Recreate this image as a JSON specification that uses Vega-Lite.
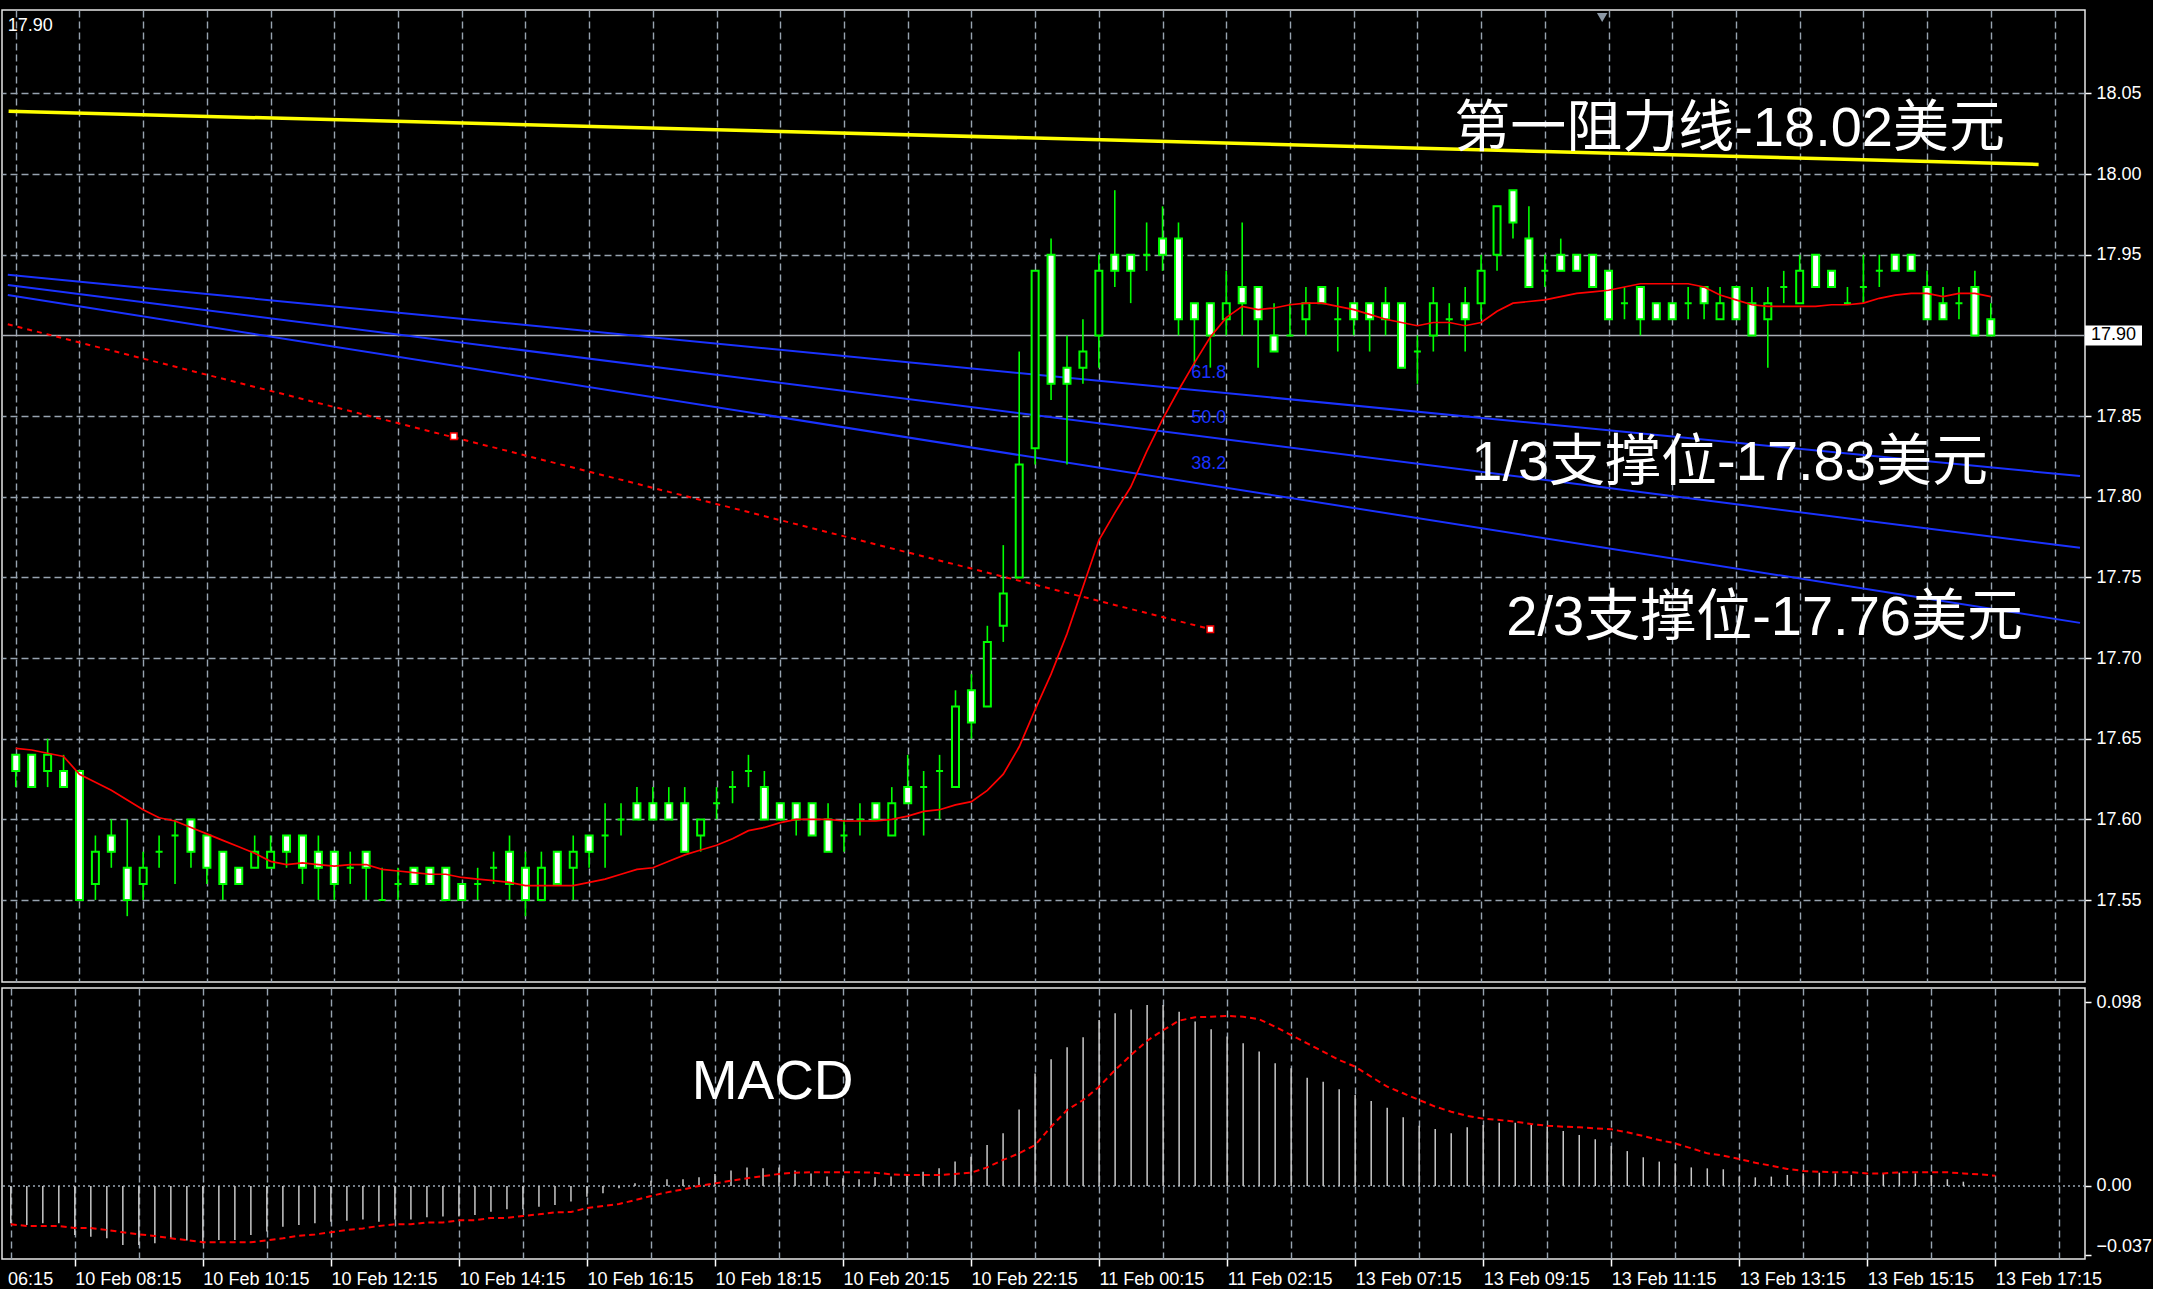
{
  "$schema": "https://vega.github.io/schema/vega-lite/v6.json",
  "background": "#000000",
  "padding": {"left": 0, "top": 9, "right": 0, "bottom": 0},
  "spacing": 4,
  "config": {
    "view": {"stroke": "#e6e6e6", "strokeWidth": 1.5},
    "axis": {
      "labelFont": "Liberation Sans, Arial, sans-serif",
      "labelFontSize": 18,
      "labelColor": "#ffffff",
      "tickColor": "#ffffff",
      "tickWidth": 1.5,
      "tickSize": 6,
      "domain": false,
      "gridColor": "#97a3b0",
      "gridDash": [7, 4],
      "gridWidth": 1.4,
      "gridOpacity": 1
    }
  },
  "datasets": {
    "bars": [
      {"i":0,"o":17.64,"h":17.64,"l":17.62,"c":17.63,"ma":17.644,"m":-0.0199,"s":-0.0204},
      {"i":1,"o":17.64,"h":17.64,"l":17.62,"c":17.62,"ma":17.643,"m":-0.0208,"s":-0.0213},
      {"i":2,"o":17.63,"h":17.65,"l":17.62,"c":17.64,"ma":17.641,"m":-0.0199,"s":-0.0213},
      {"i":3,"o":17.63,"h":17.64,"l":17.62,"c":17.62,"ma":17.639,"m":-0.0199,"s":-0.0213},
      {"i":4,"o":17.63,"h":17.63,"l":17.55,"c":17.55,"ma":17.628,"m":-0.0261,"s":-0.0224},
      {"i":5,"o":17.56,"h":17.59,"l":17.55,"c":17.58,"ma":17.623,"m":-0.0270,"s":-0.0224},
      {"i":6,"o":17.59,"h":17.60,"l":17.57,"c":17.58,"ma":17.618,"m":-0.0279,"s":-0.0234},
      {"i":7,"o":17.57,"h":17.60,"l":17.54,"c":17.55,"ma":17.612,"m":-0.0314,"s":-0.0247},
      {"i":8,"o":17.56,"h":17.58,"l":17.55,"c":17.57,"ma":17.606,"m":-0.0314,"s":-0.0258},
      {"i":9,"o":17.58,"h":17.59,"l":17.57,"c":17.58,"ma":17.601,"m":-0.0305,"s":-0.0266},
      {"i":10,"o":17.59,"h":17.60,"l":17.56,"c":17.59,"ma":17.599,"m":-0.0279,"s":-0.0279},
      {"i":11,"o":17.60,"h":17.60,"l":17.57,"c":17.58,"ma":17.595,"m":-0.0291,"s":-0.0288},
      {"i":12,"o":17.59,"h":17.59,"l":17.56,"c":17.57,"ma":17.591,"m":-0.0305,"s":-0.0300},
      {"i":13,"o":17.58,"h":17.58,"l":17.55,"c":17.56,"ma":17.587,"m":-0.0288,"s":-0.0300},
      {"i":14,"o":17.57,"h":17.57,"l":17.56,"c":17.56,"ma":17.583,"m":-0.0288,"s":-0.0300},
      {"i":15,"o":17.57,"h":17.59,"l":17.57,"c":17.58,"ma":17.579,"m":-0.0261,"s":-0.0300},
      {"i":16,"o":17.57,"h":17.59,"l":17.57,"c":17.58,"ma":17.574,"m":-0.0243,"s":-0.0290},
      {"i":17,"o":17.59,"h":17.59,"l":17.57,"c":17.58,"ma":17.572,"m":-0.0217,"s":-0.0279},
      {"i":18,"o":17.59,"h":17.59,"l":17.56,"c":17.57,"ma":17.573,"m":-0.0208,"s":-0.0265},
      {"i":19,"o":17.58,"h":17.59,"l":17.55,"c":17.57,"ma":17.572,"m":-0.0199,"s":-0.0258},
      {"i":20,"o":17.58,"h":17.58,"l":17.55,"c":17.56,"ma":17.571,"m":-0.0190,"s":-0.0247},
      {"i":21,"o":17.57,"h":17.58,"l":17.56,"c":17.57,"ma":17.572,"m":-0.0185,"s":-0.0234},
      {"i":22,"o":17.58,"h":17.58,"l":17.55,"c":17.57,"ma":17.572,"m":-0.0178,"s":-0.0226},
      {"i":23,"o":17.55,"h":17.57,"l":17.55,"c":17.55,"ma":17.569,"m":-0.0190,"s":-0.0213},
      {"i":24,"o":17.56,"h":17.57,"l":17.55,"c":17.56,"ma":17.568,"m":-0.0178,"s":-0.0204},
      {"i":25,"o":17.57,"h":17.57,"l":17.56,"c":17.56,"ma":17.567,"m":-0.0178,"s":-0.0204},
      {"i":26,"o":17.57,"h":17.57,"l":17.56,"c":17.56,"ma":17.566,"m":-0.0167,"s":-0.0194},
      {"i":27,"o":17.57,"h":17.57,"l":17.55,"c":17.55,"ma":17.566,"m":-0.0163,"s":-0.0194},
      {"i":28,"o":17.56,"h":17.56,"l":17.55,"c":17.55,"ma":17.564,"m":-0.0163,"s":-0.0183},
      {"i":29,"o":17.56,"h":17.57,"l":17.55,"c":17.56,"ma":17.563,"m":-0.0155,"s":-0.0183},
      {"i":30,"o":17.57,"h":17.58,"l":17.56,"c":17.57,"ma":17.562,"m":-0.0137,"s":-0.0170},
      {"i":31,"o":17.58,"h":17.59,"l":17.55,"c":17.56,"ma":17.561,"m":-0.0124,"s":-0.0170},
      {"i":32,"o":17.57,"h":17.58,"l":17.54,"c":17.55,"ma":17.559,"m":-0.0124,"s":-0.0160},
      {"i":33,"o":17.55,"h":17.58,"l":17.55,"c":17.57,"ma":17.559,"m":-0.0110,"s":-0.0151},
      {"i":34,"o":17.58,"h":17.58,"l":17.56,"c":17.56,"ma":17.559,"m":-0.0101,"s":-0.0140},
      {"i":35,"o":17.57,"h":17.59,"l":17.55,"c":17.58,"ma":17.559,"m":-0.0083,"s":-0.0139},
      {"i":36,"o":17.59,"h":17.59,"l":17.57,"c":17.58,"ma":17.561,"m":-0.0057,"s":-0.0117},
      {"i":37,"o":17.59,"h":17.61,"l":17.57,"c":17.59,"ma":17.563,"m":-0.0039,"s":-0.0107},
      {"i":38,"o":17.60,"h":17.61,"l":17.59,"c":17.60,"ma":17.566,"m":-0.0012,"s":-0.0096},
      {"i":39,"o":17.61,"h":17.62,"l":17.60,"c":17.60,"ma":17.569,"m":0.0014,"s":-0.0075},
      {"i":40,"o":17.61,"h":17.62,"l":17.60,"c":17.60,"ma":17.570,"m":0.0028,"s":-0.0053},
      {"i":41,"o":17.61,"h":17.62,"l":17.60,"c":17.60,"ma":17.574,"m":0.0036,"s":-0.0034},
      {"i":42,"o":17.61,"h":17.62,"l":17.58,"c":17.58,"ma":17.578,"m":0.0036,"s":-0.0018},
      {"i":43,"o":17.59,"h":17.60,"l":17.58,"c":17.60,"ma":17.581,"m":0.0046,"s":0.0000},
      {"i":44,"o":17.61,"h":17.62,"l":17.60,"c":17.61,"ma":17.584,"m":0.0064,"s":0.0014},
      {"i":45,"o":17.62,"h":17.63,"l":17.61,"c":17.62,"ma":17.588,"m":0.0082,"s":0.0028},
      {"i":46,"o":17.63,"h":17.64,"l":17.62,"c":17.63,"ma":17.593,"m":0.0099,"s":0.0041},
      {"i":47,"o":17.62,"h":17.63,"l":17.60,"c":17.60,"ma":17.595,"m":0.0094,"s":0.0053},
      {"i":48,"o":17.61,"h":17.61,"l":17.60,"c":17.60,"ma":17.598,"m":0.0099,"s":0.0064},
      {"i":49,"o":17.61,"h":17.61,"l":17.59,"c":17.60,"ma":17.600,"m":0.0082,"s":0.0071},
      {"i":50,"o":17.61,"h":17.61,"l":17.59,"c":17.59,"ma":17.600,"m":0.0067,"s":0.0073},
      {"i":51,"o":17.60,"h":17.61,"l":17.58,"c":17.58,"ma":17.600,"m":0.0050,"s":0.0073},
      {"i":52,"o":17.59,"h":17.60,"l":17.58,"c":17.59,"ma":17.599,"m":0.0041,"s":0.0073},
      {"i":53,"o":17.60,"h":17.61,"l":17.59,"c":17.60,"ma":17.599,"m":0.0036,"s":0.0073},
      {"i":54,"o":17.61,"h":17.61,"l":17.60,"c":17.60,"ma":17.599,"m":0.0046,"s":0.0071},
      {"i":55,"o":17.59,"h":17.62,"l":17.59,"c":17.61,"ma":17.600,"m":0.0050,"s":0.0062},
      {"i":56,"o":17.62,"h":17.64,"l":17.61,"c":17.61,"ma":17.602,"m":0.0064,"s":0.0059},
      {"i":57,"o":17.62,"h":17.63,"l":17.59,"c":17.62,"ma":17.605,"m":0.0076,"s":0.0059},
      {"i":58,"o":17.63,"h":17.64,"l":17.60,"c":17.63,"ma":17.606,"m":0.0094,"s":0.0059},
      {"i":59,"o":17.62,"h":17.68,"l":17.62,"c":17.67,"ma":17.609,"m":0.0130,"s":0.0064},
      {"i":60,"o":17.68,"h":17.69,"l":17.65,"c":17.66,"ma":17.611,"m":0.0156,"s":0.0071},
      {"i":61,"o":17.67,"h":17.72,"l":17.67,"c":17.71,"ma":17.618,"m":0.0218,"s":0.0099},
      {"i":62,"o":17.72,"h":17.77,"l":17.71,"c":17.74,"ma":17.628,"m":0.0281,"s":0.0139},
      {"i":63,"o":17.75,"h":17.89,"l":17.75,"c":17.82,"ma":17.645,"m":0.0408,"s":0.0174},
      {"i":64,"o":17.83,"h":17.94,"l":17.82,"c":17.94,"ma":17.668,"m":0.0600,"s":0.0218},
      {"i":65,"o":17.95,"h":17.96,"l":17.86,"c":17.87,"ma":17.690,"m":0.0675,"s":0.0316},
      {"i":66,"o":17.88,"h":17.90,"l":17.82,"c":17.87,"ma":17.715,"m":0.0739,"s":0.0405},
      {"i":67,"o":17.88,"h":17.91,"l":17.87,"c":17.89,"ma":17.744,"m":0.0792,"s":0.0458},
      {"i":68,"o":17.90,"h":17.95,"l":17.88,"c":17.94,"ma":17.773,"m":0.0884,"s":0.0529},
      {"i":69,"o":17.95,"h":17.99,"l":17.93,"c":17.94,"ma":17.790,"m":0.0920,"s":0.0618},
      {"i":70,"o":17.95,"h":17.95,"l":17.92,"c":17.94,"ma":17.806,"m":0.0941,"s":0.0698},
      {"i":71,"o":17.95,"h":17.97,"l":17.94,"c":17.95,"ma":17.828,"m":0.0964,"s":0.0774},
      {"i":72,"o":17.96,"h":17.98,"l":17.94,"c":17.95,"ma":17.848,"m":0.0964,"s":0.0831},
      {"i":73,"o":17.96,"h":17.97,"l":17.90,"c":17.91,"ma":17.866,"m":0.0929,"s":0.0881},
      {"i":74,"o":17.92,"h":17.92,"l":17.88,"c":17.91,"ma":17.883,"m":0.0876,"s":0.0899},
      {"i":75,"o":17.92,"h":17.92,"l":17.88,"c":17.90,"ma":17.899,"m":0.0835,"s":0.0902},
      {"i":76,"o":17.91,"h":17.94,"l":17.90,"c":17.92,"ma":17.911,"m":0.0796,"s":0.0906},
      {"i":77,"o":17.93,"h":17.97,"l":17.90,"c":17.92,"ma":17.918,"m":0.0760,"s":0.0902},
      {"i":78,"o":17.93,"h":17.93,"l":17.88,"c":17.91,"ma":17.916,"m":0.0716,"s":0.0888},
      {"i":79,"o":17.90,"h":17.92,"l":17.89,"c":17.89,"ma":17.917,"m":0.0654,"s":0.0849},
      {"i":80,"o":17.90,"h":17.92,"l":17.90,"c":17.90,"ma":17.919,"m":0.0627,"s":0.0804},
      {"i":81,"o":17.91,"h":17.93,"l":17.90,"c":17.92,"ma":17.920,"m":0.0577,"s":0.0760},
      {"i":82,"o":17.93,"h":17.93,"l":17.92,"c":17.92,"ma":17.920,"m":0.0556,"s":0.0716},
      {"i":83,"o":17.91,"h":17.93,"l":17.89,"c":17.91,"ma":17.918,"m":0.0515,"s":0.0671},
      {"i":84,"o":17.92,"h":17.92,"l":17.90,"c":17.91,"ma":17.916,"m":0.0485,"s":0.0636},
      {"i":85,"o":17.92,"h":17.92,"l":17.89,"c":17.91,"ma":17.913,"m":0.0453,"s":0.0582},
      {"i":86,"o":17.92,"h":17.93,"l":17.90,"c":17.91,"ma":17.910,"m":0.0417,"s":0.0529},
      {"i":87,"o":17.92,"h":17.92,"l":17.88,"c":17.88,"ma":17.908,"m":0.0366,"s":0.0494},
      {"i":88,"o":17.89,"h":17.90,"l":17.87,"c":17.89,"ma":17.906,"m":0.0321,"s":0.0458},
      {"i":89,"o":17.90,"h":17.93,"l":17.89,"c":17.92,"ma":17.908,"m":0.0304,"s":0.0423},
      {"i":90,"o":17.91,"h":17.92,"l":17.90,"c":17.91,"ma":17.908,"m":0.0281,"s":0.0396},
      {"i":91,"o":17.92,"h":17.93,"l":17.89,"c":17.91,"ma":17.906,"m":0.0313,"s":0.0373},
      {"i":92,"o":17.92,"h":17.95,"l":17.91,"c":17.94,"ma":17.908,"m":0.0325,"s":0.0359},
      {"i":93,"o":17.95,"h":17.98,"l":17.94,"c":17.98,"ma":17.915,"m":0.0337,"s":0.0352},
      {"i":94,"o":17.99,"h":17.99,"l":17.96,"c":17.97,"ma":17.920,"m":0.0337,"s":0.0343},
      {"i":95,"o":17.96,"h":17.98,"l":17.93,"c":17.93,"ma":17.921,"m":0.0325,"s":0.0330},
      {"i":96,"o":17.94,"h":17.95,"l":17.93,"c":17.94,"ma":17.922,"m":0.0316,"s":0.0321},
      {"i":97,"o":17.95,"h":17.96,"l":17.94,"c":17.94,"ma":17.924,"m":0.0293,"s":0.0316},
      {"i":98,"o":17.95,"h":17.95,"l":17.94,"c":17.94,"ma":17.926,"m":0.0272,"s":0.0313},
      {"i":99,"o":17.95,"h":17.95,"l":17.93,"c":17.93,"ma":17.927,"m":0.0249,"s":0.0307},
      {"i":100,"o":17.94,"h":17.94,"l":17.91,"c":17.91,"ma":17.928,"m":0.0213,"s":0.0302},
      {"i":101,"o":17.92,"h":17.93,"l":17.91,"c":17.92,"ma":17.930,"m":0.0186,"s":0.0286},
      {"i":102,"o":17.93,"h":17.93,"l":17.90,"c":17.91,"ma":17.932,"m":0.0153,"s":0.0266},
      {"i":103,"o":17.92,"h":17.92,"l":17.91,"c":17.91,"ma":17.932,"m":0.0130,"s":0.0245},
      {"i":104,"o":17.92,"h":17.92,"l":17.91,"c":17.91,"ma":17.932,"m":0.0121,"s":0.0227},
      {"i":105,"o":17.92,"h":17.93,"l":17.91,"c":17.92,"ma":17.932,"m":0.0099,"s":0.0201},
      {"i":106,"o":17.93,"h":17.93,"l":17.91,"c":17.92,"ma":17.930,"m":0.0094,"s":0.0174},
      {"i":107,"o":17.91,"h":17.93,"l":17.91,"c":17.92,"ma":17.925,"m":0.0089,"s":0.0162},
      {"i":108,"o":17.93,"h":17.93,"l":17.91,"c":17.91,"ma":17.922,"m":0.0050,"s":0.0144},
      {"i":109,"o":17.92,"h":17.93,"l":17.90,"c":17.90,"ma":17.919,"m":0.0046,"s":0.0124},
      {"i":110,"o":17.91,"h":17.93,"l":17.88,"c":17.92,"ma":17.918,"m":0.0050,"s":0.0108},
      {"i":111,"o":17.93,"h":17.94,"l":17.92,"c":17.93,"ma":17.918,"m":0.0059,"s":0.0091},
      {"i":112,"o":17.92,"h":17.95,"l":17.92,"c":17.94,"ma":17.918,"m":0.0067,"s":0.0080},
      {"i":113,"o":17.95,"h":17.95,"l":17.93,"c":17.93,"ma":17.918,"m":0.0071,"s":0.0076},
      {"i":114,"o":17.94,"h":17.94,"l":17.93,"c":17.93,"ma":17.919,"m":0.0067,"s":0.0073},
      {"i":115,"o":17.92,"h":17.93,"l":17.92,"c":17.92,"ma":17.919,"m":0.0059,"s":0.0073},
      {"i":116,"o":17.93,"h":17.95,"l":17.92,"c":17.93,"ma":17.920,"m":0.0059,"s":0.0067},
      {"i":117,"o":17.94,"h":17.95,"l":17.93,"c":17.94,"ma":17.923,"m":0.0067,"s":0.0067},
      {"i":118,"o":17.95,"h":17.95,"l":17.94,"c":17.94,"ma":17.925,"m":0.0071,"s":0.0073},
      {"i":119,"o":17.95,"h":17.95,"l":17.94,"c":17.94,"ma":17.926,"m":0.0067,"s":0.0073},
      {"i":120,"o":17.93,"h":17.94,"l":17.91,"c":17.91,"ma":17.926,"m":0.0059,"s":0.0073},
      {"i":121,"o":17.92,"h":17.93,"l":17.91,"c":17.91,"ma":17.924,"m":0.0036,"s":0.0073},
      {"i":122,"o":17.92,"h":17.93,"l":17.91,"c":17.92,"ma":17.926,"m":0.0023,"s":0.0067},
      {"i":123,"o":17.93,"h":17.94,"l":17.90,"c":17.90,"ma":17.926,"m":0.0004,"s":0.0062},
      {"i":124,"o":17.91,"h":17.92,"l":17.90,"c":17.90,"ma":17.924,"m":0.0002,"s":0.0055}
    ],
    "trend": [
      {"line":"fib1","i":-0.5,"p":17.9376},{"line":"fib1","i":129.6,"p":17.8128},
      {"line":"fib2","i":-0.5,"p":17.9313},{"line":"fib2","i":129.6,"p":17.7683},
      {"line":"fib3","i":-0.5,"p":17.9250},{"line":"fib3","i":129.6,"p":17.7218},
      {"line":"resist","i":-0.45,"p":18.039},{"line":"resist","i":127,"p":18.006},
      {"line":"down","i":-0.5,"p":17.9069},{"line":"down","i":75.0,"p":17.7179}
    ],
    "pts": [
      {"kind":"anchor","i":27.5,"p":17.8375},
      {"kind":"anchor","i":75.0,"p":17.7179},
      {"kind":"shift","i":99.6,"p":18.097}
    ],
    "notes": [
      {"kind":"big","t":"第一阻力线-18.02美元","i":107.6,"p":18.0282},
      {"kind":"big","t":"1/3支撑位-17.83美元","i":107.6,"p":17.8211},
      {"kind":"big","t":"2/3支撑位-17.76美元","i":109.8,"p":17.725},
      {"kind":"fib","t":"61.8","i":73.8,"p":17.877},
      {"kind":"fib","t":"50.0","i":73.8,"p":17.849},
      {"kind":"fib","t":"38.2","i":73.8,"p":17.820},
      {"kind":"corner","t":"17.90","i":-0.5,"p":18.0918},
      {"kind":"macd","t":"MACD","i":47.6,"p":0.0555}
    ]
  },
  "vconcat": [
    {
      "width": 2083,
      "height": 972,
      "layer": [
        {
          "data": {"name": "bars"},
          "transform": [{"filter": "datum.i == 124"}],
          "mark": {"type": "rule", "stroke": "#a8adb5", "strokeWidth": 1.5},
          "encoding": {
            "y": {"field": "c", "type": "quantitative", "title": null, "scale": {"domain": [17.4992, 18.1017], "nice": false, "zero": false}}
          }
        },
        {
          "data": {"name": "trend"},
          "transform": [{"filter": "indexof(datum.line, 'fib') == 0"}],
          "mark": {"type": "line", "stroke": "#1a32ff", "strokeWidth": 2},
          "encoding": {
            "x": {"field": "i", "type": "quantitative", "title": null,
                  "scale": {"domain": [-0.55, 129.6], "nice": false, "zero": false},
                  "axis": {"orient": "bottom", "grid": true, "labels": false, "ticks": false, "domain": false,
                           "values": [0,4,8,12,16,20,24,28,32,36,40,44,48,52,56,60,64,68,72,76,80,84,88,92,96,100,104,108,112,116,120,124,128]}},
            "y": {"field": "p", "type": "quantitative", "title": null,
                  "scale": {"domain": [17.4992, 18.1017], "nice": false, "zero": false},
                  "axis": {"orient": "right", "grid": true, "format": ".2f", "labelPadding": 5,
                           "values": [17.55,17.6,17.65,17.7,17.75,17.8,17.85,17.95,18,18.05]}},
            "detail": {"field": "line"}
          }
        },
        {
          "data": {"name": "trend"},
          "transform": [{"filter": "datum.line == 'resist'"}],
          "mark": {"type": "line", "stroke": "#ffff00", "strokeWidth": 3.5},
          "encoding": {
            "x": {"field": "i", "type": "quantitative", "title": null, "scale": {"domain": [-0.55, 129.6], "nice": false, "zero": false}},
            "y": {"field": "p", "type": "quantitative", "title": null, "scale": {"domain": [17.4992, 18.1017], "nice": false, "zero": false}}
          }
        },
        {
          "data": {"name": "trend"},
          "transform": [{"filter": "datum.line == 'down'"}],
          "mark": {"type": "line", "stroke": "#ff0000", "strokeWidth": 2, "strokeDash": [5, 5]},
          "encoding": {
            "x": {"field": "i", "type": "quantitative", "title": null, "scale": {"domain": [-0.55, 129.6], "nice": false, "zero": false}},
            "y": {"field": "p", "type": "quantitative", "title": null, "scale": {"domain": [17.4992, 18.1017], "nice": false, "zero": false}}
          }
        },
        {
          "data": {"name": "bars"},
          "mark": {"type": "rule", "stroke": "#00ff00", "strokeWidth": 1.6},
          "encoding": {
            "x": {"field": "i", "type": "quantitative", "title": null, "scale": {"domain": [-0.55, 129.6], "nice": false, "zero": false}},
            "y": {"field": "l", "type": "quantitative", "title": null, "scale": {"domain": [17.4992, 18.1017], "nice": false, "zero": false}},
            "y2": {"field": "h"}
          }
        },
        {
          "data": {"name": "bars"},
          "mark": {"type": "bar", "width": 7, "stroke": "#00ff00", "strokeWidth": 2},
          "encoding": {
            "x": {"field": "i", "type": "quantitative", "title": null, "scale": {"domain": [-0.55, 129.6], "nice": false, "zero": false}},
            "y": {"field": "o", "type": "quantitative", "title": null, "scale": {"domain": [17.4992, 18.1017], "nice": false, "zero": false}},
            "y2": {"field": "c"},
            "fill": {"condition": {"test": "datum.c < datum.o", "value": "#ffffff"}, "value": "#000000"}
          }
        },
        {
          "data": {"name": "bars"},
          "mark": {"type": "line", "stroke": "#ff0000", "strokeWidth": 1.7},
          "encoding": {
            "x": {"field": "i", "type": "quantitative", "title": null, "scale": {"domain": [-0.55, 129.6], "nice": false, "zero": false}},
            "y": {"field": "ma", "type": "quantitative", "title": null, "scale": {"domain": [17.4992, 18.1017], "nice": false, "zero": false}}
          }
        },
        {
          "data": {"name": "pts"},
          "transform": [{"filter": "datum.kind == 'anchor'"}],
          "mark": {"type": "point", "shape": "square", "size": 42, "filled": true, "fill": "#ffffff", "stroke": "#ff0000", "strokeWidth": 1.5, "opacity": 1},
          "encoding": {
            "x": {"field": "i", "type": "quantitative", "title": null, "scale": {"domain": [-0.55, 129.6], "nice": false, "zero": false}},
            "y": {"field": "p", "type": "quantitative", "title": null, "scale": {"domain": [17.4992, 18.1017], "nice": false, "zero": false}}
          }
        },
        {
          "data": {"name": "pts"},
          "transform": [{"filter": "datum.kind == 'shift'"}],
          "mark": {"type": "point", "shape": "triangle-down", "size": 110, "filled": true, "fill": "#8d99a6", "opacity": 1},
          "encoding": {
            "x": {"field": "i", "type": "quantitative", "title": null, "scale": {"domain": [-0.55, 129.6], "nice": false, "zero": false}},
            "y": {"field": "p", "type": "quantitative", "title": null, "scale": {"domain": [17.4992, 18.1017], "nice": false, "zero": false}}
          }
        },
        {
          "data": {"name": "notes"},
          "transform": [{"filter": "datum.kind == 'big'"}],
          "mark": {"type": "text", "align": "center", "baseline": "middle", "font": "Liberation Sans, Noto Sans CJK SC, sans-serif", "fontSize": 56, "fill": "#ffffff"},
          "encoding": {
            "x": {"field": "i", "type": "quantitative", "title": null, "scale": {"domain": [-0.55, 129.6], "nice": false, "zero": false}},
            "y": {"field": "p", "type": "quantitative", "title": null, "scale": {"domain": [17.4992, 18.1017], "nice": false, "zero": false}},
            "text": {"field": "t"}
          }
        },
        {
          "data": {"name": "notes"},
          "transform": [{"filter": "datum.kind == 'fib'"}],
          "mark": {"type": "text", "align": "left", "baseline": "middle", "font": "Liberation Sans, Arial, sans-serif", "fontSize": 18, "fill": "#1a32ff"},
          "encoding": {
            "x": {"field": "i", "type": "quantitative", "title": null, "scale": {"domain": [-0.55, 129.6], "nice": false, "zero": false}},
            "y": {"field": "p", "type": "quantitative", "title": null, "scale": {"domain": [17.4992, 18.1017], "nice": false, "zero": false}},
            "text": {"field": "t"}
          }
        },
        {
          "data": {"name": "notes"},
          "transform": [{"filter": "datum.kind == 'corner'"}],
          "mark": {"type": "text", "align": "left", "baseline": "middle", "font": "Liberation Sans, Arial, sans-serif", "fontSize": 18, "fill": "#ffffff"},
          "encoding": {
            "x": {"field": "i", "type": "quantitative", "title": null, "scale": {"domain": [-0.55, 129.6], "nice": false, "zero": false}},
            "y": {"field": "p", "type": "quantitative", "title": null, "scale": {"domain": [17.4992, 18.1017], "nice": false, "zero": false}},
            "text": {"field": "t"}
          }
        },
        {
          "data": {"name": "bars"},
          "transform": [{"filter": "datum.i == 124"}],
          "mark": {"type": "point", "shape": "M0.5,-1L6.2,-1L6.2,1L0.5,1Z", "size": 400, "filled": true, "fill": "#ffffff", "opacity": 1},
          "encoding": {
            "x": {"datum": 129.6, "type": "quantitative", "scale": {"domain": [-0.55, 129.6], "nice": false, "zero": false}},
            "y": {"field": "c", "type": "quantitative", "title": null, "scale": {"domain": [17.4992, 18.1017], "nice": false, "zero": false}}
          }
        },
        {
          "data": {"name": "bars"},
          "transform": [{"filter": "datum.i == 124"}],
          "mark": {"type": "text", "align": "left", "baseline": "middle", "dx": 11, "font": "Liberation Sans, Arial, sans-serif", "fontSize": 18, "fill": "#000000"},
          "encoding": {
            "x": {"datum": 129.6, "type": "quantitative", "scale": {"domain": [-0.55, 129.6], "nice": false, "zero": false}},
            "y": {"field": "c", "type": "quantitative", "title": null, "scale": {"domain": [17.4992, 18.1017], "nice": false, "zero": false}},
            "text": {"field": "c", "format": ".2f"}
          }
        }
      ]
    },
    {
      "width": 2083,
      "height": 271,
      "layer": [
        {
          "data": {"name": "bars"},
          "transform": [{"filter": "datum.i == 0"}],
          "mark": {"type": "rule", "stroke": "#99a6b4", "strokeWidth": 1.5, "strokeDash": [2, 3]},
          "encoding": {
            "y": {"datum": 0, "type": "quantitative", "scale": {"domain": [-0.0389, 0.1055], "nice": false, "zero": false}}
          }
        },
        {
          "data": {"name": "bars"},
          "mark": {"type": "rule", "stroke": "#c8c8c8", "strokeWidth": 1.5},
          "encoding": {
            "x": {"field": "i", "type": "quantitative", "title": null,
                  "scale": {"domain": [-0.55, 129.6], "nice": false, "zero": false},
                  "axis": {"orient": "bottom", "grid": true, "tickSize": 7, "labelAlign": "left", "labelBaseline": "top",
                           "labelFlush": false, "labelOverlap": false, "labelPadding": 4,
                           "values": [-0.2,0,4,8,12,16,20,24,28,32,36,40,44,48,52,56,60,64,68,72,76,80,84,88,92,96,100,104,108,112,116,120,124,128],
                           "gridColor": {"condition": {"test": "datum.value < 0", "value": "transparent"}, "value": "#97a3b0"},
                           "tickColor": {"condition": {"test": "datum.value > 0 && (datum.value - 4) % 8 == 0", "value": "#ffffff"}, "value": "transparent"},
                           "labelExpr": "datum.value < 0 ? '06:15' : ((datum.value - 4) % 8 == 0 ? ['10 Feb 08:15','10 Feb 10:15','10 Feb 12:15','10 Feb 14:15','10 Feb 16:15','10 Feb 18:15','10 Feb 20:15','10 Feb 22:15','11 Feb 00:15','11 Feb 02:15','13 Feb 07:15','13 Feb 09:15','13 Feb 11:15','13 Feb 13:15','13 Feb 15:15','13 Feb 17:15'][(datum.value - 4) / 8] : '')"}},
            "y": {"field": "m", "type": "quantitative", "title": null,
                  "scale": {"domain": [-0.0389, 0.1055], "nice": false, "zero": false},
                  "axis": {"orient": "right", "grid": false, "labelPadding": 5, "values": [0.098, 0, -0.037],
                           "labelExpr": "datum.value == 0 ? '0.00' : format(datum.value, '.3f')",
                           "labelBaseline": {"condition": {"test": "datum.value < 0", "value": "bottom"}, "value": "middle"}}},
            "y2": {"datum": 0}
          }
        },
        {
          "data": {"name": "bars"},
          "mark": {"type": "line", "stroke": "#ff0000", "strokeWidth": 2, "strokeDash": [6, 4]},
          "encoding": {
            "x": {"field": "i", "type": "quantitative", "title": null, "scale": {"domain": [-0.55, 129.6], "nice": false, "zero": false}},
            "y": {"field": "s", "type": "quantitative", "title": null, "scale": {"domain": [-0.0389, 0.1055], "nice": false, "zero": false}}
          }
        },
        {
          "data": {"name": "notes"},
          "transform": [{"filter": "datum.kind == 'macd'"}],
          "mark": {"type": "text", "align": "center", "baseline": "middle", "font": "Liberation Sans, Arial, sans-serif", "fontSize": 55, "fill": "#ffffff"},
          "encoding": {
            "x": {"field": "i", "type": "quantitative", "title": null, "scale": {"domain": [-0.55, 129.6], "nice": false, "zero": false}},
            "y": {"field": "p", "type": "quantitative", "title": null, "scale": {"domain": [-0.0389, 0.1055], "nice": false, "zero": false}},
            "text": {"field": "t"}
          }
        }
      ]
    }
  ]
}
